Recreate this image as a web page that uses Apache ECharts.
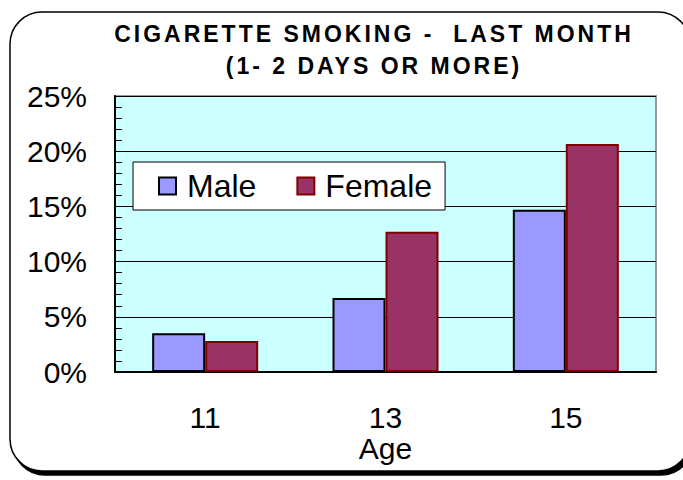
<!DOCTYPE html>
<html>
<head>
<meta charset="utf-8">
<title>Cigarette smoking</title>
<script src="https://cdn.jsdelivr.net/npm/echarts@6/dist/echarts.min.js"></script>
<style>
html,body{margin:0;padding:0;background:#fff;}
#main{width:683px;height:480px;}
/* the title is the only bold text; the original has wide letter spacing */
#main svg text[style*="bold"], #main svg text[font-weight="bold"]{letter-spacing:3px;}
</style>
</head>
<body>
<div id="main"></div>
<script>
var ages = ['11', '13', '15'];
var male = [3.5, 6.7, 14.7];
var female = [2.8, 12.7, 20.65];

var font = '"Liberation Sans", Arial, sans-serif';
var chart = echarts.init(document.getElementById('main'), null, {renderer: 'svg'});

chart.setOption({
  animation: false,
  graphic: [{
    type: 'rect',
    z: -10,
    shape: {x: 10, y: 12, width: 680, height: 459, r: 32},
    style: {fill: '#fff', stroke: '#000', lineWidth: 1.5,
      shadowColor: '#000', shadowOffsetX: 3, shadowOffsetY: 4, shadowBlur: 0}
  }],
  title: {
    text: 'CIGARETTE SMOKING -  LAST MONTH\n(1- 2 DAYS OR MORE)',
    left: 374, top: 18, textAlign: 'center', padding: 0,
    textStyle: {fontFamily: font, fontWeight: 'bold', fontSize: 23, lineHeight: 32, color: '#000'}
  },
  legend: {
    left: 133, top: 162,
    backgroundColor: '#fff', borderColor: '#000', borderWidth: 1,
    padding: [8, 13, 8, 25],
    itemWidth: 17, itemHeight: 17, itemGap: 40,
    icon: 'rect',
    textStyle: {fontFamily: font, fontSize: 32, color: '#000', padding: [0, 0, 0, 6]}
  },
  grid: {
    left: 115, right: 27, top: 96, bottom: 108,
    show: true, backgroundColor: '#ccffff', borderColor: '#999', borderWidth: 2
  },
  xAxis: {
    type: 'category', data: ages,
    name: 'Age', nameLocation: 'middle', nameGap: 61, nameMoveOverlap: false,
    nameTextStyle: {fontFamily: font, fontSize: 30, color: '#000'},
    axisLine: {lineStyle: {color: '#000', width: 2}},
    axisTick: {inside: true, length: 8, lineStyle: {color: '#000'}},
    axisLabel: {margin: 30, fontFamily: font, fontSize: 30, color: '#000'}
  },
  yAxis: {
    type: 'value', min: 0, max: 25, interval: 5,
    axisLine: {show: true, lineStyle: {color: '#000', width: 2}},
    axisTick: {show: true, inside: true, length: 9, lineStyle: {color: '#000'}},
    minorTick: {show: true, splitNumber: 5, length: 7, lineStyle: {color: '#000'}},
    splitLine: {lineStyle: {color: '#000', width: 1}},
    axisLabel: {margin: 28, fontFamily: font, fontSize: 30, color: '#000',
      formatter: '{value}%'}
  },
  series: [{
    name: 'Male', type: 'bar', data: male,
    barWidth: 53, barGap: '0%',
    itemStyle: {color: '#9999ff', borderColor: '#000', borderWidth: 2}
  }, {
    name: 'Female', type: 'bar', data: female,
    barWidth: 53,
    itemStyle: {color: '#993366', borderColor: '#800000', borderWidth: 2}
  }]
});
</script>
</body>
</html>
